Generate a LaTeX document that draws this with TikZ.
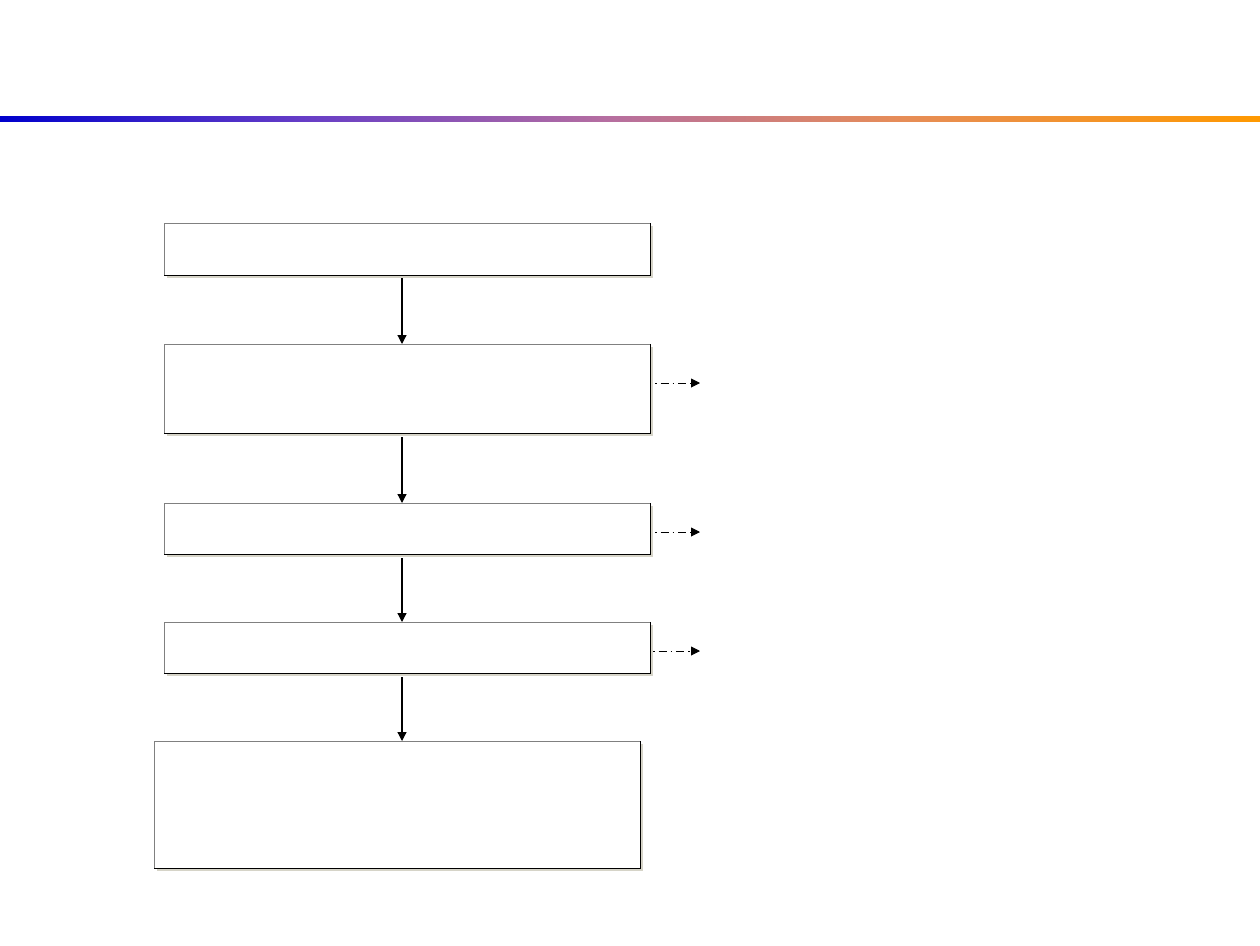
\documentclass[tikz,border=0pt]{standalone}
\usetikzlibrary{arrows.meta,shadows}
\definecolor{shadowc}{RGB}{214,212,200}
\pgfdeclarehorizontalshading{rulegrad}{100bp}{
  rgb(0bp)=(0,0,0.8);
  rgb(25bp)=(0,0,0.8);
  rgb(37bp)=(0.40,0.24,0.78);
  rgb(49bp)=(0.71,0.43,0.63);
  rgb(60.5bp)=(0.90,0.55,0.35);
  rgb(75bp)=(1,0.6,0);
  rgb(100bp)=(1,0.6,0)}
\tikzset{
  flowbox/.style={draw=black!50, line width=0.9pt, fill=white, inner sep=0pt,
    drop shadow={shadow xshift=3pt, shadow yshift=-3pt, fill=shadowc, opacity=1}},
  darkedge/.style={draw=black, line width=0.9pt},
  flowarrow/.style={-{Triangle[length=9pt,width=9pt]}, line width=1.2pt},
  sidearrow/.style={-{Triangle[length=9pt,width=9pt]}, line width=0.9pt,
    dash pattern=on 1.5pt off 4pt on 8pt off 4pt}
}
\begin{document}
\begin{tikzpicture}[x=1pt,y=-1pt]
\useasboundingbox (0,0) rectangle (1260,945);
\shade[shading=rulegrad] (0,116) rectangle (1260,121);
\node[flowbox, minimum width=486pt, minimum height=52pt, anchor=north west] (b1) at (164,223) {};
\node[flowbox, minimum width=486pt, minimum height=89pt, anchor=north west] (b2) at (164,344) {};
\node[flowbox, minimum width=486pt, minimum height=51pt, anchor=north west] (b3) at (164,503) {};
\node[flowbox, minimum width=486pt, minimum height=51pt, anchor=north west] (b4) at (164,622) {};
\node[flowbox, minimum width=486pt, minimum height=127pt, anchor=north west] (b5) at (154,741) {};
\foreach \b in {b1,b2,b3,b4,b5}
  \draw[darkedge] (\b.north east) -- (\b.south east) -- (\b.south west);
\coordinate (c1) at (402,278);
\draw[flowarrow] (c1) -- (b2.north -| c1);
\coordinate (c2) at (402,437);
\draw[flowarrow] (c2) -- (b3.north -| c2);
\coordinate (c3) at (402,558);
\draw[flowarrow] (c3) -- (b4.north -| c3);
\coordinate (c4) at (402,677);
\draw[flowarrow] (c4) -- (b5.north -| c4);
\coordinate (s1a) at (655,383); \coordinate (s1b) at (700,383);
\draw[sidearrow] (s1a) -- (s1b);
\coordinate (s2a) at (655,532); \coordinate (s2b) at (700,532);
\draw[sidearrow] (s2a) -- (s2b);
\coordinate (s3a) at (653,651); \coordinate (s3b) at (700,651);
\draw[sidearrow] (s3a) -- (s3b);
\end{tikzpicture}
\end{document}
